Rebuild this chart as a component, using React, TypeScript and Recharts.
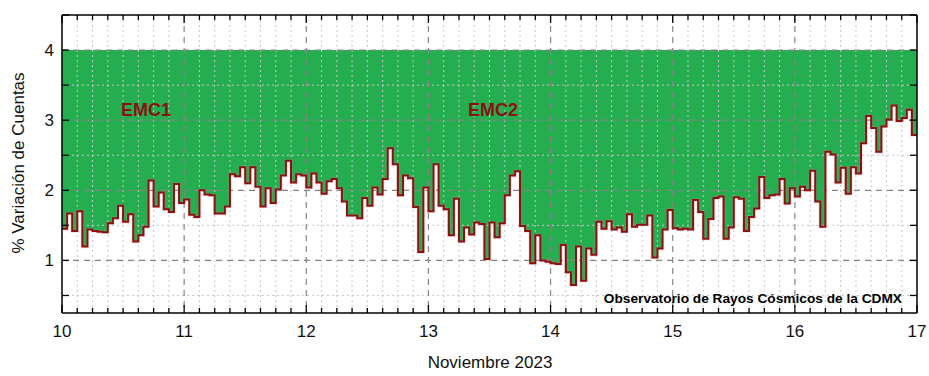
import { Area, CartesianGrid, ComposedChart, Line, XAxis, YAxis } from 'recharts';

// % variación de cuentas, one value per hour, one array per day (Nov 2023)
const nov10 = [1.45, 1.67, 1.42, 1.70, 1.20, 1.44, 1.42, 1.41, 1.40, 1.53, 1.60, 1.78, 1.55, 1.66, 1.27, 1.36, 1.48, 2.14, 1.77, 1.97, 1.73, 1.69, 2.09, 1.82];
const nov11 = [1.87, 1.65, 1.62, 2.00, 1.94, 1.93, 1.67, 1.67, 1.77, 2.23, 2.20, 2.33, 2.10, 2.33, 2.05, 1.77, 2.03, 1.82, 2.01, 2.21, 2.42, 2.11, 2.23, 2.21];
const nov12 = [2.04, 2.24, 2.11, 1.95, 2.13, 2.16, 2.03, 1.84, 1.64, 1.64, 1.60, 1.89, 1.78, 2.04, 1.94, 2.16, 2.60, 2.37, 1.93, 2.21, 2.17, 1.76, 1.12, 2.04];
const nov13 = [1.70, 2.37, 1.78, 1.73, 1.36, 1.88, 1.27, 1.47, 1.37, 1.54, 1.52, 1.02, 1.54, 1.33, 1.53, 1.93, 2.21, 2.27, 1.49, 1.42, 0.96, 1.36, 1.00, 0.98];
const nov14 = [0.96, 0.95, 1.22, 0.83, 0.65, 1.20, 0.71, 1.17, 1.08, 1.55, 1.45, 1.56, 1.44, 1.47, 1.41, 1.66, 1.48, 1.51, 1.51, 1.64, 1.04, 1.17, 1.44, 1.72];
const nov15 = [1.46, 1.44, 1.45, 1.44, 1.86, 1.69, 1.31, 1.59, 1.89, 1.91, 1.31, 1.47, 1.90, 1.88, 1.42, 1.62, 1.74, 2.19, 1.89, 1.93, 1.94, 2.16, 1.81, 2.03];
const nov16 = [1.91, 2.05, 2.00, 2.28, 1.84, 1.48, 2.55, 2.51, 2.11, 2.32, 1.95, 2.33, 2.24, 2.67, 3.06, 2.89, 2.55, 2.91, 3.01, 3.21, 2.99, 3.03, 3.15, 2.79];

const days = [10, 11, 12, 13, 14, 15, 16];
const perDay = [nov10, nov11, nov12, nov13, nov14, nov15, nov16];

const xTicks = Array.from({ length: 57 }, (_, i) => 10 + i / 8); // every 3 h
const xMajor = [10, 11, 12, 13, 14, 15, 16, 17];
const yTicks = [0.5, 1, 1.5, 2, 2.5, 3, 3.5, 4, 4.5];
const yMajor = [1, 2, 3, 4];
const xDomain = [10, 17];
const yDomain = [0.25, 4.5];
const topLevel = 4;

const data = days.flatMap((d, i) => perDay[i].map((v, h) => ({ t: d + h / 24, v })));
data.push({ t: 17, v: nov16[nov16.length - 1] });

const FONT = '"Liberation Sans", Arial, sans-serif';
const GREEN = '#24ae4f';
const RED = '#8b1014';

const isMajorX = (v: number) => xMajor.includes(v);
const isMajorY = (v: number) => yMajor.includes(v);

const BottomTick = ({ x, y, payload }: any) => {
  const major = isMajorX(payload.value);
  return (
    <g>
      <line x1={x} x2={x} y1={y} y2={y - (major ? 8 : 5)} stroke="#000" strokeWidth={1.3} />
      {major && (
        <text x={x} y={y + 24} textAnchor="middle" fontSize={17} fontFamily={FONT} fill="#111">
          {payload.value}
        </text>
      )}
    </g>
  );
};

const TopTick = ({ x, y, payload }: any) => {
  const major = isMajorX(payload.value);
  return <line x1={x} x2={x} y1={y} y2={y + (major ? 8 : 5)} stroke="#000" strokeWidth={1.3} />;
};

const LeftTick = ({ x, y, payload }: any) => (
  <g>
    <line x1={x} x2={x + 7} y1={y} y2={y} stroke="#000" strokeWidth={1.3} />
    {isMajorY(payload.value) && (
      <text x={x - 8} y={y + 6} textAnchor="end" fontSize={17} fontFamily={FONT} fill="#111">
        {payload.value}
      </text>
    )}
  </g>
);

const RightTick = ({ x, y }: any) => (
  <line x1={x} x2={x - 7} y1={y} y2={y} stroke="#000" strokeWidth={1.3} />
);

// map values through the axis scale, whatever shape it has in this recharts build
const scaleWith = (axis: any, v: number, fallback: () => number) => {
  const s = axis && axis.scale;
  if (typeof s === 'function') return s(v);
  if (s && typeof s.map === 'function') return s.map(v);
  return fallback();
};

const xs = (xAxis: any, offset: any, vals: number[]) =>
  vals.map((v) =>
    scaleWith(xAxis, v, () => offset.left + ((v - xDomain[0]) / (xDomain[1] - xDomain[0])) * offset.width)
  );
const ys = (yAxis: any, offset: any, vals: number[]) =>
  vals.map((v) =>
    scaleWith(yAxis, v, () => offset.top + ((yDomain[1] - v) / (yDomain[1] - yDomain[0])) * offset.height)
  );

// text layer laid over the chart
const Labels = () => (
  <svg
    width={929}
    height={376}
    style={{ position: 'absolute', left: 0, top: 0, pointerEvents: 'none' }}
  >
    <g fontFamily={FONT}>
      <text x={121} y={116} fontSize={18} fontWeight="bold" fill={RED}>EMC1</text>
      <text x={468} y={116} fontSize={18} fontWeight="bold" fill={RED}>EMC2</text>
      <text x={902} y={303} fontSize={13.7} fontWeight="bold" fill="#000" textAnchor="end">
        Observatorio de Rayos Cósmicos de la CDMX
      </text>
      <text x={490} y={368} fontSize={17} fill="#111" textAnchor="middle">Noviembre 2023</text>
      <text
        x={0}
        y={0}
        fontSize={17}
        fill="#111"
        textAnchor="middle"
        transform="translate(24,163) rotate(-90)"
      >
        % Variación de Cuentas
      </text>
    </g>
  </svg>
);

export default function App() {
  return (
    <div style={{ position: 'absolute', left: 0, top: 0, width: 929, height: 376, background: '#fff' }}>
      <ComposedChart width={929} height={376} data={data} margin={{ top: 0, right: 0, bottom: 0, left: 0 }}>
        <XAxis
          dataKey="t"
          type="number"
          domain={xDomain}
          ticks={xTicks}
          interval={0}
          height={63}
          tickSize={0}
          tickMargin={0}
          tickLine={false}
          tick={<BottomTick />}
          axisLine={{ stroke: '#000', strokeWidth: 1.5 }}
          allowDataOverflow
        />
        <XAxis
          xAxisId="top"
          orientation="top"
          dataKey="t"
          type="number"
          domain={xDomain}
          ticks={xTicks}
          interval={0}
          height={15}
          tickSize={0}
          tickMargin={0}
          tickLine={false}
          tick={<TopTick />}
          axisLine={{ stroke: '#000', strokeWidth: 1.5 }}
          allowDataOverflow
        />
        <YAxis
          type="number"
          domain={yDomain}
          ticks={yTicks}
          interval={0}
          width={62}
          tickSize={0}
          tickMargin={0}
          tickLine={false}
          tick={<LeftTick />}
          axisLine={{ stroke: '#000', strokeWidth: 1.5 }}
          allowDataOverflow
        />
        <YAxis
          yAxisId="right"
          orientation="right"
          type="number"
          domain={yDomain}
          ticks={yTicks}
          interval={0}
          width={12}
          tickSize={0}
          tickMargin={0}
          tickLine={false}
          tick={<RightTick />}
          axisLine={{ stroke: '#000', strokeWidth: 1.5 }}
          allowDataOverflow
        />
        <Area
          dataKey="v"
          type="stepAfter"
          baseValue={topLevel}
          fill={GREEN}
          fillOpacity={1}
          stroke="none"
          isAnimationActive={false}
          dot={false}
          activeDot={false}
          zIndex={100}
        />
        <CartesianGrid
          zIndex={200}
          stroke="#c8c8c8"
          strokeDasharray="2 3"
          verticalCoordinatesGenerator={({ xAxis, offset }: any) =>
            xs(xAxis, offset, xTicks.filter((v) => !isMajorX(v)))
          }
          horizontalCoordinatesGenerator={({ yAxis, offset }: any) =>
            ys(yAxis, offset, yTicks.filter((v) => !isMajorY(v) && v < 4.5))
          }
        />
        <CartesianGrid
          zIndex={210}
          stroke="#858585"
          strokeWidth={1.2}
          strokeDasharray="6 5"
          verticalCoordinatesGenerator={({ xAxis, offset }: any) =>
            xs(xAxis, offset, xMajor.filter((v) => v > 10 && v < 17))
          }
          horizontalCoordinatesGenerator={({ yAxis, offset }: any) => ys(yAxis, offset, yMajor)}
        />
        <Line
          dataKey="v"
          type="stepAfter"
          stroke="rgba(225,130,130,0.25)"
          strokeWidth={3.6}
          dot={false}
          activeDot={false}
          isAnimationActive={false}
          zIndex={290}
        />
        <Line
          dataKey="v"
          type="stepAfter"
          stroke={RED}
          strokeWidth={2}
          dot={false}
          activeDot={false}
          isAnimationActive={false}
          zIndex={300}
        />
      </ComposedChart>
      <Labels />
    </div>
  );
}
